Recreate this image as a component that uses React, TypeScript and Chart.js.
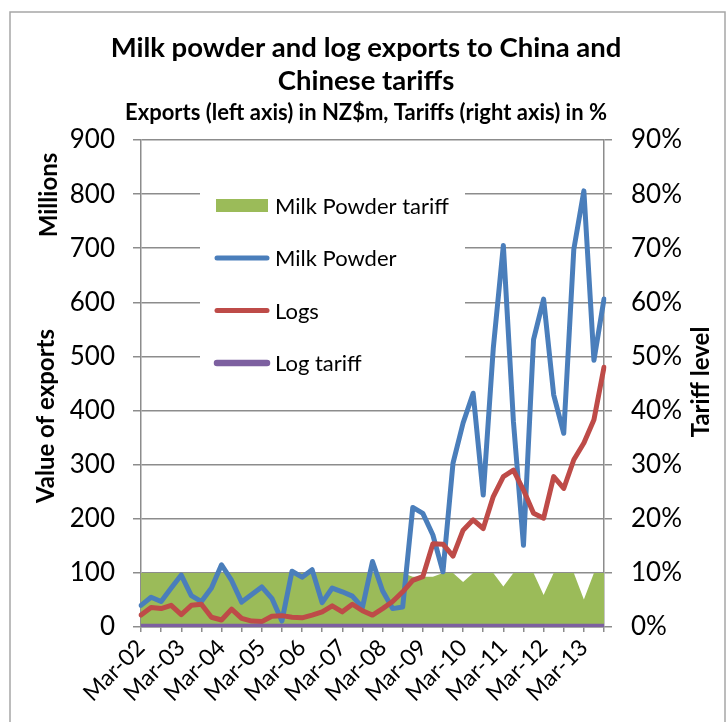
import React, { useEffect, useRef } from "react";
import { Chart, registerables } from "chart.js";

Chart.register(...registerables);

// Quarterly periods, March 2002 to September 2013
const CATEGORIES = [
  "Mar-02", "Jun-02", "Sep-02", "Dec-02",
  "Mar-03", "Jun-03", "Sep-03", "Dec-03",
  "Mar-04", "Jun-04", "Sep-04", "Dec-04",
  "Mar-05", "Jun-05", "Sep-05", "Dec-05",
  "Mar-06", "Jun-06", "Sep-06", "Dec-06",
  "Mar-07", "Jun-07", "Sep-07", "Dec-07",
  "Mar-08", "Jun-08", "Sep-08", "Dec-08",
  "Mar-09", "Jun-09", "Sep-09", "Dec-09",
  "Mar-10", "Jun-10", "Sep-10", "Dec-10",
  "Mar-11", "Jun-11", "Sep-11", "Dec-11",
  "Mar-12", "Jun-12", "Sep-12", "Dec-12",
  "Mar-13", "Jun-13", "Sep-13",
];

// Export values, NZ$ millions
const MILK_POWDER = [
  40, 55, 47, 72, 96, 58, 47, 72, 115, 86, 46, 60,
  74, 53, 11, 103, 92, 106, 45, 72, 65, 57, 36, 121,
  67, 34, 37, 221, 210, 170, 102, 303, 377, 432, 244, 515,
  705, 380, 151, 531, 606, 429, 358, 698, 806, 493, 606,
];

const LOGS = [
  22, 36, 34, 40, 23, 40, 42, 18, 13, 33, 16, 11,
  10, 20, 21, 18, 17, 22, 28, 39, 28, 42, 30, 22,
  34, 47, 65, 86, 93, 154, 153, 131, 179, 198, 182, 241,
  278, 290, 253, 210, 201, 278, 256, 309, 340, 383, 480,
];

// Tariff rates, percent
const MILK_POWDER_TARIFF = [
  10, 10, 10, 10, 10, 10, 10, 10, 10, 10, 10, 10,
  10, 10, 10, 10, 10, 10, 10, 10, 10, 10, 10, 10,
  10, 10, 10, 9.3, 9.3, 9.3, 10, 10, 8.3, 10, 10, 10,
  7.5, 10, 10, 10, 5.9, 10, 10, 10, 5.1, 10, 10,
];

const LOG_TARIFF = [
  0, 0, 0, 0, 0, 0, 0, 0, 0, 0, 0, 0,
  0, 0, 0, 0, 0, 0, 0, 0, 0, 0, 0, 0,
  0, 0, 0, 0, 0, 0, 0, 0, 0, 0, 0, 0,
  0, 0, 0, 0, 0, 0, 0, 0, 0, 0, 0,
];

const LEFT_TICKS_MAX = 900;
const RIGHT_TICKS_MAX = 90;

const TITLE_LINES = ["Milk powder and log exports to China and", "Chinese tariffs"];
const SUBTITLE = "Exports (left axis) in NZ$m, Tariffs (right axis) in %";

const FONT = "Lato, 'Open Sans', sans-serif";
const GREEN = "#9BBB59";
const BLUE = "#4A7EBB";
const RED = "#BE4B48";
const PURPLE = "#7D60A0";
const GRID = "#8C8C8C";

const LEGEND_ITEMS = [
  { label: "Milk Powder tariff", color: GREEN, kind: "box", width: 0 },
  { label: "Milk Powder", color: BLUE, kind: "line", width: 5 },
  { label: "Logs", color: RED, kind: "line", width: 5 },
  { label: "Log tariff", color: PURPLE, kind: "line", width: 6.5 },
];

const decorPlugin = {
  id: "decor",
  beforeDraw(chart: any) {
    const { ctx, width, height } = chart;
    ctx.save();
    ctx.fillStyle = "#ffffff";
    ctx.fillRect(0, 0, width, height);
    ctx.strokeStyle = "#A6A6A6";
    ctx.lineWidth = 1.5;
    ctx.strokeRect(10, 12, 715, 740);
    ctx.restore();
  },
  afterDatasetsDraw(chart: any) {
    const { ctx } = chart;
    ctx.save();
    // legend panel sits inside the plot area on a white background
    ctx.fillStyle = "#ffffff";
    ctx.fillRect(200, 178, 265, 210);
    ctx.font = `22px ${FONT}`;
    ctx.textBaseline = "middle";
    ctx.textAlign = "left";
    LEGEND_ITEMS.forEach((item, i) => {
      const y = 205.5 + i * 52.5;
      if (item.kind === "box") {
        ctx.fillStyle = item.color;
        ctx.fillRect(216, y - 6.5, 52, 13);
      } else {
        ctx.strokeStyle = item.color;
        ctx.lineWidth = item.width;
        ctx.lineCap = "round";
        ctx.beginPath();
        ctx.moveTo(217, y);
        ctx.lineTo(267, y);
        ctx.stroke();
      }
      ctx.fillStyle = "#000000";
      ctx.fillText(item.label, 275, y + 1);
    });
    ctx.restore();
  },
  afterDraw(chart: any) {
    const { ctx } = chart;
    ctx.save();
    ctx.fillStyle = "#000000";
    ctx.textAlign = "center";
    ctx.textBaseline = "middle";
    ctx.font = `bold 27.5px ${FONT}`;
    ctx.fillText(TITLE_LINES[0], 366, 48);
    ctx.fillText(TITLE_LINES[1], 366, 81);
    ctx.font = `bold 22px ${FONT}`;
    ctx.fillText(SUBTITLE, 366, 113);

    ctx.font = `bold 24px ${FONT}`;
    const vertical = (text: string, x: number, y: number) => {
      ctx.save();
      ctx.translate(x, y);
      ctx.rotate(-Math.PI / 2);
      ctx.fillText(text, 0, 0);
      ctx.restore();
    };
    vertical("Millions", 49, 195);
    vertical("Value of exports", 46, 416);
    vertical("Tariff level", 701, 382);
    ctx.restore();
  },
};

export default function App() {
  const canvasRef = useRef<HTMLCanvasElement | null>(null);

  useEffect(() => {
    if (!canvasRef.current) return;
    const chart = new Chart(canvasRef.current, {
      type: "line",
      data: {
        labels: CATEGORIES,
        datasets: [
          {
            label: "Milk Powder tariff",
            data: MILK_POWDER_TARIFF,
            yAxisID: "y1",
            backgroundColor: GREEN,
            borderWidth: 0,
            fill: "origin",
            pointRadius: 0,
            order: 4,
          },
          {
            label: "Milk Powder",
            data: MILK_POWDER,
            yAxisID: "y",
            borderColor: BLUE,
            borderWidth: 5,
            borderJoinStyle: "round",
            borderCapStyle: "round",
            fill: false,
            pointRadius: 0,
            order: 3,
          },
          {
            label: "Logs",
            data: LOGS,
            yAxisID: "y",
            borderColor: RED,
            borderWidth: 5,
            borderJoinStyle: "round",
            borderCapStyle: "round",
            fill: false,
            pointRadius: 0,
            order: 2,
          },
          {
            label: "Log tariff",
            data: LOG_TARIFF,
            yAxisID: "y1",
            borderColor: PURPLE,
            borderWidth: 6.5,
            borderCapStyle: "butt",
            fill: false,
            pointRadius: 0,
            order: 1,
          },
        ],
      },
      options: {
        responsive: false,
        animation: false,
        devicePixelRatio: 1,
        layout: { padding: { top: 140, left: 0, right: 0, bottom: 0 } },
        plugins: {
          legend: { display: false },
          title: { display: false },
          tooltip: { enabled: false },
        },
        elements: { line: { tension: 0 } },
        scales: {
          x: {
            type: "category",
            offset: false,
            grid: {
              drawOnChartArea: false,
              drawTicks: true,
              tickLength: 5,
              lineWidth: 1.5,
              color: (c: any) => (c.index % 2 === 0 ? GRID : "rgba(0,0,0,0)"),
            },
            border: { display: true, color: GRID, width: 1.5 },
            ticks: {
              autoSkip: false,
              minRotation: 45,
              maxRotation: 45,
              padding: 2,
              color: "#000000",
              font: { family: FONT, size: 23 },
              callback: (_v: any, i: number) => (i % 4 === 0 ? CATEGORIES[i] : ""),
            },
            afterFit: (s: any) => {
              s.height = 95;
            },
          },
          y: {
            position: "left",
            min: 0,
            max: LEFT_TICKS_MAX,
            ticks: {
              stepSize: 100,
              padding: 18,
              color: "#000000",
              font: { family: FONT, size: 26 },
            },
            grid: { color: GRID, lineWidth: 1.5, tickLength: 8 },
            border: { display: true, color: GRID, width: 1.5 },
            afterFit: (s: any) => {
              s.width = 141;
            },
          },
          y1: {
            position: "right",
            min: 0,
            max: RIGHT_TICKS_MAX,
            ticks: {
              stepSize: 10,
              padding: 19,
              color: "#000000",
              font: { family: FONT, size: 26 },
              callback: (v: any) => `${v}%`,
            },
            grid: { drawOnChartArea: false, color: GRID, lineWidth: 1.5, tickLength: 8 },
            border: { display: true, color: GRID, width: 1.5 },
            afterFit: (s: any) => {
              s.width = 123;
            },
          },
        },
      },
      plugins: [decorPlugin],
    } as any);
    return () => chart.destroy();
  }, []);

  return (
    <div style={{ position: "fixed", left: 0, top: 0, width: 727, height: 722, background: "#fff" }}>
      <canvas ref={canvasRef} width={727} height={722} style={{ display: "block" }} />
    </div>
  );
}
